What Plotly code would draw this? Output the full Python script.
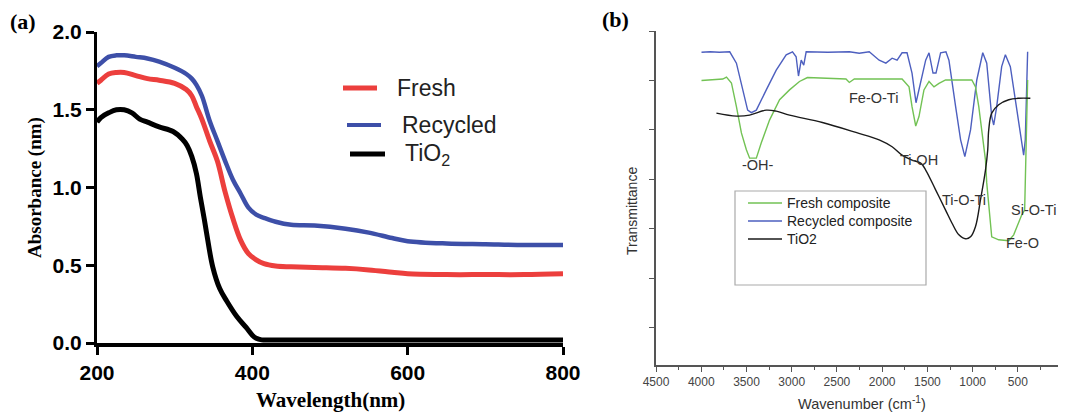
import plotly.graph_objects as go

# ---------------- Panel (a): UV-Vis absorbance ----------------
wavelength = [200, 205, 215, 225, 235, 250, 265, 280, 300, 315, 322, 328, 335, 345, 355, 365,
              375, 385, 395, 405, 415, 430, 450, 480, 520, 550, 580, 600, 650, 700, 750, 800]
fresh_abs = [1.67, 1.69, 1.73, 1.74, 1.74, 1.72, 1.70, 1.69, 1.67, 1.63, 1.59, 1.52, 1.44, 1.30, 1.17, 0.97,
             0.80, 0.66, 0.575, 0.535, 0.51, 0.495, 0.49, 0.485, 0.48, 0.47, 0.455, 0.445, 0.44, 0.44, 0.44, 0.445]
recycled_abs = [1.78, 1.80, 1.84, 1.85, 1.85, 1.84, 1.83, 1.81, 1.77, 1.73, 1.70, 1.66, 1.59, 1.43, 1.30, 1.17,
                1.05, 0.96, 0.87, 0.825, 0.805, 0.78, 0.76, 0.755, 0.735, 0.71, 0.675, 0.655, 0.64, 0.635, 0.63, 0.63]
tio2_wavelength = [200, 205, 215, 225, 235, 245, 255, 265, 280, 298, 310, 316, 322, 328, 333, 338, 341,
                   349, 358, 367, 380, 392, 400, 405, 412, 430, 500, 600, 700, 800]
tio2_abs = [1.42, 1.45, 1.48, 1.50, 1.50, 1.48, 1.44, 1.42, 1.39, 1.36, 1.31, 1.27, 1.20, 1.09, 0.94, 0.80, 0.71,
            0.49, 0.35, 0.27, 0.17, 0.10, 0.05, 0.03, 0.02, 0.02, 0.02, 0.02, 0.02, 0.02]
abs_ticks = [0.0, 0.5, 1.0, 1.5, 2.0]
wl_ticks = [200, 400, 600, 800]

# ---------------- Panel (b): FTIR ----------------
rec_wn = [3997, 3900, 3800, 3685, 3611, 3542, 3487, 3446, 3391, 3281, 3171, 3061, 2991, 2951, 2925, 2895,
          2867, 2840, 2600, 2363, 2253, 2143, 2033, 1959, 1890, 1835, 1780, 1725, 1670, 1626, 1574, 1519,
          1482, 1438, 1405, 1354, 1295, 1262, 1188, 1133, 1086, 1023, 954, 888, 844, 789, 767, 734, 679,
          638, 583, 528, 473, 436, 418, 403, 392]
rec_T = [6.57, 6.58, 6.57, 6.58, 6.35, 5.81, 5.40, 5.35, 5.40, 5.81, 6.21, 6.52, 6.58, 6.48, 6.09, 6.41,
         6.31, 6.58, 6.57, 6.58, 6.55, 6.58, 6.41, 6.35, 6.45, 6.41, 6.56, 6.56, 6.15, 5.55, 5.95, 6.41,
         6.56, 6.15, 6.15, 6.56, 6.58, 6.41, 5.47, 4.80, 4.46, 5.00, 6.01, 6.56, 6.35, 5.27, 5.10, 5.47, 6.28,
         6.52, 6.28, 5.61, 4.86, 4.49, 4.80, 6.15, 6.58]
fresh_wn = [3997, 3762, 3721, 3666, 3611, 3556, 3501, 3465, 3391, 3336, 3245, 3134, 3024, 2914, 2826, 2600,
            2400, 2363, 2308, 1780, 1703, 1670, 1629, 1593, 1538, 1482, 1427, 1372, 1299, 1009, 968, 932,
            899, 858, 844, 803, 789, 712, 601, 546, 491, 458, 425, 418, 406, 392]
fresh_T = [6.00, 6.03, 6.07, 5.95, 5.47, 4.94, 4.60, 4.43, 4.43, 4.74, 5.20, 5.61, 5.81, 5.98, 6.06, 6.05,
           6.03, 5.96, 6.03, 6.03, 5.87, 5.47, 5.08, 5.27, 5.81, 5.98, 5.87, 5.94, 6.01, 6.01, 5.87, 5.47,
           4.94, 4.39, 3.93, 3.05, 2.84, 2.78, 2.76, 2.88, 3.15, 3.28, 3.38, 3.93, 4.60, 6.01]
tio2_wn = [3832, 3611, 3465, 3281, 3171, 3024, 2661, 2290, 2033, 1890, 1780, 1670, 1574, 1519, 1409, 1299,
           1229, 1152, 1078, 1023, 968, 913, 858, 833, 822, 789, 712, 601, 491, 362]
tio2_T = [5.34, 5.28, 5.30, 5.40, 5.38, 5.30, 5.15, 4.95, 4.80, 4.66, 4.49, 4.39, 4.33, 4.19, 3.79, 3.38,
          3.12, 2.88, 2.80, 2.84, 3.05, 3.59, 4.19, 4.60, 5.00, 5.34, 5.51, 5.61, 5.64, 5.64]
wn_ticks = [4500, 4000, 3500, 3000, 2500, 2000, 1500, 1000, 500, 0]
T_ticks = [1, 2, 3, 4, 5, 6, 7]

peak_labels = ["-OH-", "Fe-O-Ti", "Ti-OH", "Ti-O-Ti", "Si-O-Ti", "Fe-O"]
peak_wn = [3377, 2099, 1593, 1097, 330, 447]
peak_T = [4.29, 5.65, 4.39, 3.59, 3.38, 2.72]

RED = "#EC3F3D"
BLUE = "#3D4FA8"
BLACK = "#000000"
G_GREEN = "#72C254"
G_BLUE = "#4D5FBF"
G_BLACK = "#1a1a1a"

OFF = 8  # page body margin of the browser
W, H = 1066 - OFF, 414 - OFF
SANS = "Liberation Sans, Arial, sans-serif"
SERIF = "Liberation Serif, Times New Roman, serif"

fig = go.Figure()

# panel (a) traces
fig.add_trace(go.Scatter(x=wavelength, y=recycled_abs, mode="lines", line=dict(color=BLUE, width=4.5),
                         line_shape="spline", name="Recycled", showlegend=False, xaxis="x", yaxis="y"))
fig.add_trace(go.Scatter(x=wavelength, y=fresh_abs, mode="lines", line=dict(color=RED, width=5),
                         line_shape="spline", name="Fresh", showlegend=False, xaxis="x", yaxis="y"))
fig.add_trace(go.Scatter(x=tio2_wavelength, y=tio2_abs, mode="lines", line=dict(color=BLACK, width=5),
                         line_shape="spline", name="TiO2", showlegend=False, xaxis="x", yaxis="y"))

# panel (b) traces
fig.add_trace(go.Scatter(x=rec_wn, y=rec_T, mode="lines", line=dict(color=G_BLUE, width=1.4),
                         name="Recycled composite", showlegend=False, xaxis="x2", yaxis="y2"))
fig.add_trace(go.Scatter(x=fresh_wn, y=fresh_T, mode="lines", line=dict(color=G_GREEN, width=1.4),
                         name="Fresh composite", showlegend=False, xaxis="x2", yaxis="y2"))
fig.add_trace(go.Scatter(x=tio2_wn, y=tio2_T, mode="lines", line=dict(color=G_BLACK, width=1.4),
                         line_shape="spline", name="TiO2", showlegend=False, xaxis="x2", yaxis="y2"))


def px(x):
    return (x - OFF) / W


def py(y):
    return 1 - (y - OFF) / H


fig.update_layout(
    template="none",
    width=W, height=H,
    margin=dict(l=0, r=0, t=0, b=0, pad=0),
    paper_bgcolor="white", plot_bgcolor="white",
    xaxis=dict(domain=[px(97), px(563)], range=[200, 800], tickvals=wl_ticks, automargin=False,
               ticks="outside", ticklen=8, tickwidth=3, tickcolor="black",
               showline=True, linewidth=4, linecolor="black", showgrid=False, zeroline=False,
               tickfont=dict(family=SANS, size=21, color="black", weight="bold"), anchor="y"),
    yaxis=dict(domain=[py(343), py(32)], range=[0, 2.0], tickvals=abs_ticks, tickformat=".1f", automargin=False,
               ticks="outside", ticklen=8, tickwidth=3, tickcolor="black",
               showline=True, linewidth=3, linecolor="black", showgrid=False, zeroline=False,
               tickfont=dict(family=SANS, size=21, color="black", weight="bold"), anchor="x"),
    xaxis2=dict(domain=[px(656), px(1064)], range=[4500, -10], tickvals=wn_ticks, automargin=False,
                ticks="outside", ticklen=5, tickwidth=1.2, tickcolor="#555",
                minor=dict(dtick=250, tick0=0, ticks="outside", ticklen=3, tickwidth=1.2, tickcolor="#555",
                           showgrid=False),
                showline=True, linewidth=1.5, linecolor="#555", showgrid=False, zeroline=False,
                ticklabeloverflow="allow",
                tickfont=dict(family=SANS, size=12, color="#444"), anchor="y2"),
    yaxis2=dict(domain=[py(365), py(31)], range=[0.25, 7.0], tickvals=T_ticks, showticklabels=False,
                automargin=False,
                ticks="outside", ticklen=5, tickwidth=1.2, tickcolor="#555",
                showline=True, linewidth=1.5, linecolor="#555", showgrid=False, zeroline=False,
                anchor="x2"),
)

shapes = []
annotations = []

# panel labels
annotations.append(dict(text="<b>(a)</b>", x=px(8), y=py(22), xref="paper", yref="paper",
                        xanchor="left", yanchor="middle", showarrow=False,
                        font=dict(family=SERIF, size=22, color="black")))
annotations.append(dict(text="<b>(b)</b>", x=px(600), y=py(20), xref="paper", yref="paper",
                        xanchor="left", yanchor="middle", showarrow=False,
                        font=dict(family=SERIF, size=22, color="black")))

# axis titles panel (a)
annotations.append(dict(text="<b>Absorbance (nm)</b>", x=px(35), y=py(188), xref="paper", yref="paper",
                        textangle=-90, showarrow=False, xanchor="center", yanchor="middle",
                        font=dict(family=SERIF, size=19, color="black")))
annotations.append(dict(text="<b>Wavelength(nm)</b>", x=px(331), y=py(400), xref="paper", yref="paper",
                        showarrow=False, xanchor="center", yanchor="middle",
                        font=dict(family=SERIF, size=21, color="black")))

# axis titles panel (b)
annotations.append(dict(text="Transmittance", x=px(632), y=py(211), xref="paper", yref="paper",
                        textangle=-90, showarrow=False, xanchor="center", yanchor="middle",
                        font=dict(family=SANS, size=14, color="#333")))
annotations.append(dict(text="Wavenumber (cm<sup>-1</sup>)", x=px(862), y=py(403), xref="paper", yref="paper",
                        showarrow=False, xanchor="center", yanchor="middle",
                        font=dict(family=SANS, size=14.5, color="#333")))

# legend panel (a)
leg_a = [("Fresh", RED, 343, 377, 88, 395, 5), ("Recycled", BLUE, 347, 381, 125, 400, 4),
         ("TiO<sub>2</sub>", BLACK, 350, 385, 154, 403, 5)]
for label, col, x0, x1, yy, tx, lw in leg_a:
    shapes.append(dict(type="line", xref="paper", yref="paper", x0=px(x0), x1=px(x1), y0=py(yy), y1=py(yy),
                       line=dict(color=col, width=lw)))
    annotations.append(dict(text=label, x=px(tx), y=py(yy), xref="paper", yref="paper",
                            xanchor="left", yanchor="middle", showarrow=False,
                            font=dict(family=SANS, size=23, color="#222")))

# legend panel (b)
shapes.append(dict(type="rect", xref="paper", yref="paper", x0=px(735), x1=px(926), y0=py(285), y1=py(191),
                   line=dict(color="#aaa", width=1.2), fillcolor="rgba(0,0,0,0)"))
leg_b = [("Fresh composite", G_GREEN, 203), ("Recycled composite", G_BLUE, 221), ("TiO2", G_BLACK, 239)]
for label, col, yy in leg_b:
    shapes.append(dict(type="line", xref="paper", yref="paper", x0=px(748), x1=px(782), y0=py(yy), y1=py(yy),
                       line=dict(color=col, width=1.4)))
    annotations.append(dict(text=label, x=px(785), y=py(yy), xref="paper", yref="paper",
                            xanchor="left", yanchor="middle", showarrow=False,
                            font=dict(family=SANS, size=14, color="#222")))

# peak labels panel (b)
for lab, xw, yt in zip(peak_labels, peak_wn, peak_T):
    annotations.append(dict(text=lab, x=xw, y=yt, xref="x2", yref="y2", showarrow=False,
                            xanchor="center", yanchor="middle",
                            font=dict(family=SANS, size=14.5, color="#333")))

fig.update_layout(shapes=shapes, annotations=annotations)

fig.write_html("out.html")
